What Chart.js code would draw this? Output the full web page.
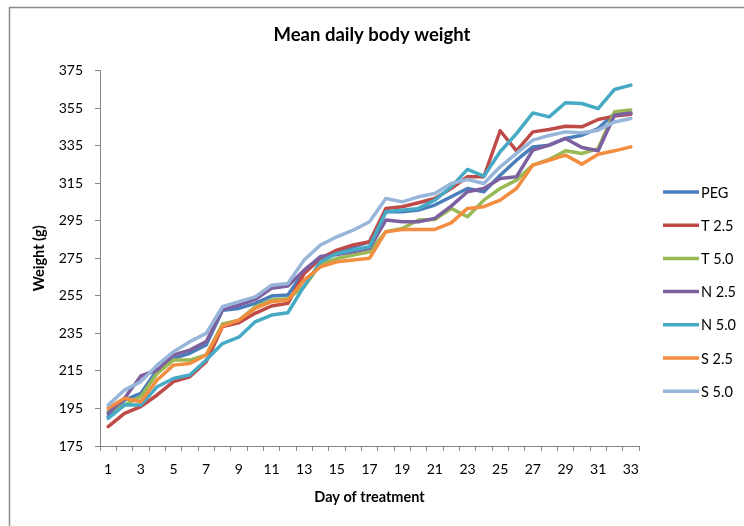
<!DOCTYPE html>
<html>
<head>
<meta charset="utf-8">
<script src="https://cdn.jsdelivr.net/npm/chart.js@4.4.0/dist/chart.umd.min.js"></script>
<style>
    html, body { margin: 0; padding: 0; background: #fff; }
</style>
</head>
<body>
<canvas id="graficoPeso" width="744" height="526"></canvas>
<script>
// Dias de tratamiento (categorias del eje x)
const dias = [1, 2, 3, 4, 5, 6, 7, 8, 9, 10, 11, 12, 13, 14, 15, 16, 17,
    18, 19, 20, 21, 22, 23, 24, 25, 26, 27, 28, 29, 30, 31, 32, 33];

// Marcas del eje y
const marcasY = [175, 195, 215, 235, 255, 275, 295, 315, 335, 355, 375];

// Peso medio diario (g) por grupo
const pesoPEG = [190.6, 199.5, 203.0, 215.5, 221.7, 224.4, 228.8, 247.4, 248.3, 251.0, 254.9, 255.5, 267.9, 275.0, 278.5, 281.0, 283.8,
    299.8, 299.8, 300.7, 303.4, 307.8, 312.2, 310.5, 319.3, 327.3, 334.4, 335.3, 338.9, 340.6, 344.2, 352.2, 352.2];
const pesoT25 = [185.3, 192.4, 196.0, 202.2, 209.3, 211.9, 219.9, 238.6, 240.7, 245.7, 249.6, 251.0, 267.0, 275.0, 279.4, 282.1, 283.8,
    301.6, 302.5, 304.6, 306.9, 312.2, 318.5, 318.5, 343.0, 332.3, 342.4, 343.7, 345.4, 345.1, 349.0, 350.8, 351.8];
const pesoT50 = [193.3, 196.8, 201.3, 213.7, 220.8, 220.8, 223.5, 240.0, 242.0, 249.2, 252.8, 253.5, 259.9, 272.0, 274.9, 276.7, 278.5,
    289.2, 290.9, 295.4, 295.7, 301.6, 297.2, 306.0, 312.2, 316.7, 324.7, 327.7, 332.3, 330.9, 333.5, 353.1, 354.0];
const pesoN25 = [192.4, 200.4, 212.3, 215.5, 223.5, 226.1, 230.6, 247.8, 250.1, 253.1, 259.0, 260.2, 268.7, 276.0, 277.0, 278.5, 280.3,
    295.4, 294.5, 294.5, 296.3, 302.8, 310.5, 312.2, 317.6, 318.5, 332.7, 335.3, 338.9, 334.1, 332.3, 351.3, 352.5];
const pesoN50 = [189.7, 196.8, 196.8, 206.6, 211.0, 212.8, 220.8, 229.6, 233.0, 241.2, 244.8, 246.0, 260.2, 273.2, 277.6, 279.4, 281.2,
    299.8, 300.7, 301.6, 306.0, 313.1, 322.4, 318.8, 331.8, 341.5, 352.5, 350.4, 357.9, 357.5, 354.8, 365.0, 367.3];
const pesoS25 = [195.1, 200.4, 198.6, 210.2, 218.1, 219.0, 223.5, 238.9, 242.1, 248.3, 251.9, 252.8, 263.4, 270.5, 273.2, 274.1, 275.0,
    289.2, 290.4, 290.4, 290.4, 293.9, 301.6, 302.5, 306.0, 312.2, 324.7, 327.3, 330.0, 325.2, 330.5, 332.3, 334.4];
const pesoS50 = [196.8, 204.8, 209.3, 218.1, 225.2, 230.6, 235.0, 249.2, 251.9, 254.5, 260.7, 261.6, 274.1, 282.1, 286.5, 290.0, 294.5,
    306.9, 305.1, 307.8, 309.6, 314.9, 317.0, 314.9, 323.8, 330.9, 338.0, 340.5, 342.4, 341.9, 343.3, 347.7, 349.5];

const grupos = ['PEG', 'T 2.5', 'T 5.0', 'N 2.5', 'N 5.0', 'S 2.5', 'S 5.0'];
const series = [pesoPEG, pesoT25, pesoT50, pesoN25, pesoN50, pesoS25, pesoS50];
const colores = ['#4A7EBB', '#BE4B48', '#98B954', '#7D60A0', '#46AAC5', '#F38D3F', '#98B5DA'];

const gris = '#868686';
Chart.defaults.font.family = 'Lato, "Open Sans", sans-serif';
Chart.defaults.color = '#000';

// Marco gris del area del grafico (estilo Excel)
const marcoExcel = {
    id: 'marcoExcel',
    beforeDraw(chart) {
        const c = chart.ctx;
        c.save();
        c.fillStyle = '#fff';
        c.fillRect(0, 0, chart.width, chart.height);
        c.strokeStyle = '#8c8c8c';
        c.lineWidth = 1.5;
        c.beginPath();
        c.moveTo(9.5, chart.height);
        c.lineTo(9.5, 7.5);
        c.lineTo(chart.width, 7.5);
        c.stroke();
        c.restore();
    }
};

// Leyenda a la derecha con segmentos de linea
const leyendaExcel = {
    id: 'leyendaExcel',
    afterDraw(chart) {
        const c = chart.ctx;
        const x0 = chart.chartArea.right + 24;
        c.save();
        c.font = '14.5px ' + Chart.defaults.font.family;
        c.textBaseline = 'middle';
        c.textAlign = 'left';
        chart.data.datasets.forEach((ds, i) => {
            const y = 192 + i * 33.2;
            c.strokeStyle = ds.borderColor;
            c.lineWidth = 3.5;
            c.beginPath();
            c.moveTo(x0, y);
            c.lineTo(x0 + 36, y);
            c.stroke();
            c.fillStyle = '#000';
            c.fillText(ds.label, x0 + 38, y + 1);
        });
        c.restore();
    }
};

const ctx = document.getElementById('graficoPeso').getContext('2d');

const myChart = new Chart(ctx, {
    type: 'line',
    data: {
        labels: dias,
        datasets: grupos.map((g, i) => ({
            label: g,
            data: series[i],
            borderColor: colores[i],
            backgroundColor: colores[i],
            borderWidth: 3.5,
            borderJoinStyle: 'round',
            borderCapStyle: 'round',
            pointRadius: 0,
            tension: 0,
            order: grupos.length - i // las ultimas series quedan encima, como en Excel
        }))
    },
    options: {
        responsive: false,
        animation: false,
        layout: { padding: 0 },
        plugins: {
            legend: { display: false },
            tooltip: { enabled: false },
            title: {
                display: true,
                text: 'Mean daily body weight',
                font: { size: 18.5, weight: 'bold' },
                color: '#000',
                padding: { top: 24, bottom: 24.5 }
            }
        },
        scales: {
            x: {
                offset: true,
                grid: {
                    offset: true,
                    drawOnChartArea: false,
                    drawTicks: true,
                    tickLength: 5,
                    color: gris
                },
                border: { display: true, color: gris, width: 1 },
                ticks: {
                    autoSkip: false,
                    maxRotation: 0,
                    padding: 10,
                    font: { size: 14 },
                    callback: function(val, idx) {
                        return idx % 2 === 0 ? dias[idx] : '';
                    }
                },
                title: {
                    display: true,
                    text: 'Day of treatment',
                    font: { size: 14.5, weight: 'bold' },
                    padding: { top: 0, bottom: 20 }
                },
                afterFit: function(scale) {
                    scale.height = 80;
                }
            },
            y: {
                min: 175,
                max: 375,
                afterBuildTicks: function(scale) {
                    scale.ticks = marcasY.map(v => ({ value: v }));
                },
                grid: {
                    drawOnChartArea: false,
                    drawTicks: true,
                    tickLength: 5,
                    color: gris
                },
                border: { display: true, color: gris, width: 1 },
                ticks: {
                    padding: 12,
                    font: { size: 14 }
                },
                title: {
                    display: true,
                    text: 'Weight (g)',
                    font: { size: 14.5, weight: 'bold' },
                    padding: { top: 31, bottom: 0 }
                },
                afterFit: function(scale) {
                    scale.width = 100;
                }
            },
            // espacio reservado para la leyenda
            espacio: {
                type: 'linear',
                position: 'right',
                display: true,
                grid: { display: false, drawTicks: false },
                border: { display: false },
                ticks: { display: false },
                afterFit: function(scale) {
                    scale.width = 105;
                }
            }
        }
    },
    plugins: [marcoExcel, leyendaExcel]
});
</script>
</body>
</html>
